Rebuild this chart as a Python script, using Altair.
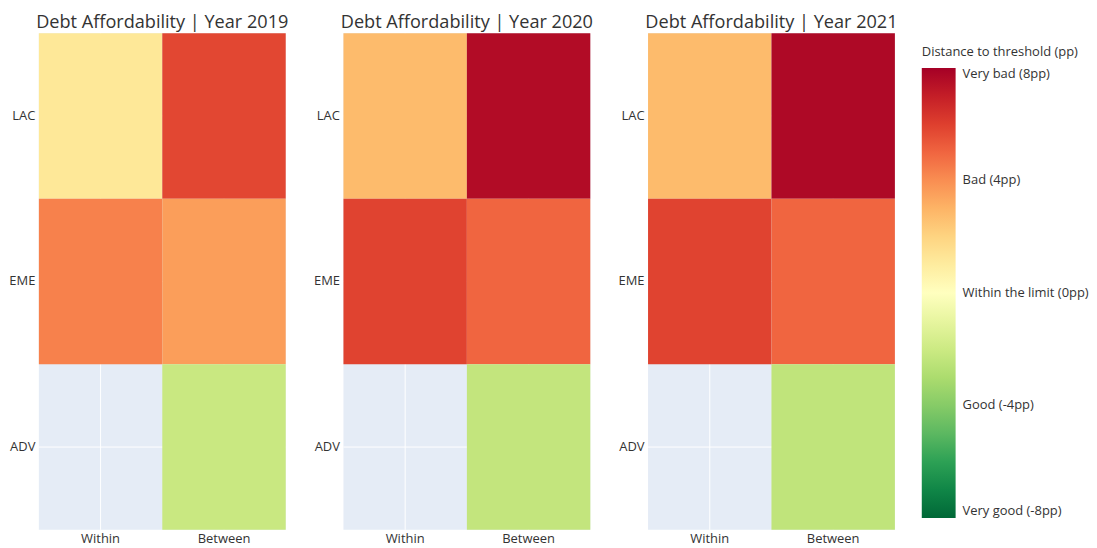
import altair as alt
import pandas as pd

years = [2019, 2020, 2021]
columns = ["Within", "Between"]
rows = ["LAC", "EME", "ADV"]

# values per year: [LAC Within, LAC Between, EME Within, EME Between, ADV Within, ADV Between]
vals_2019 = [1.2, 5.8, 4.3, 3.6, None, -2.1]
vals_2020 = [2.8, 7.6, 5.9, 5.0, None, -2.3]
vals_2021 = [2.8, 7.7, 5.9, 5.0, None, -2.4]
all_vals = {2019: vals_2019, 2020: vals_2020, 2021: vals_2021}

recs = []
for y in years:
    i = 0
    for r in rows:
        for c in columns:
            v = all_vals[y][i]
            i += 1
            if v is not None:
                recs.append({"year": y, "row": r, "col": c, "value": v})
df = pd.DataFrame(recs)
grid_x = pd.DataFrame({"col": columns})
grid_y = pd.DataFrame({"row": rows})

scale_domain = [-8, -6.4, -4.8, -3.2, -1.6, 0, 1.6, 3.2, 4.8, 6.4, 8]
scale_range = ["rgb(0,104,55)", "rgb(26,152,80)", "rgb(102,189,99)", "rgb(166,217,106)",
               "rgb(217,239,139)", "rgb(255,255,191)", "rgb(254,224,139)", "rgb(253,174,97)",
               "rgb(244,109,67)", "rgb(215,48,39)", "rgb(165,0,38)"]
legend_vals = [8, 4, 0, -4, -8]
legend_labels = ["Very bad (8pp)", "Bad (4pp)", "Within the limit (0pp)", "Good (-4pp)", "Very good (-8pp)"]

label_expr = ("datum.value == 8 ? '" + legend_labels[0] + "' : datum.value == 4 ? '" + legend_labels[1] +
              "' : datum.value == 0 ? '" + legend_labels[2] + "' : datum.value == -4 ? '" + legend_labels[3] +
              "' : '" + legend_labels[4] + "'")

FONT = "Open Sans"
TXT = "#333333"

xscale = alt.Scale(domain=columns, paddingInner=0, paddingOuter=0)
yscale = alt.Scale(domain=rows, paddingInner=0, paddingOuter=0)


def panel(y):
    vlines = alt.Chart(grid_x).mark_rule(color="white", strokeWidth=1).encode(
        x=alt.X("col:N", sort=columns, bandPosition=0.5, title=None, scale=xscale,
                axis=alt.Axis(labelAngle=0, domain=False, ticks=False, grid=False, labelPadding=3)),
    )
    hlines = alt.Chart(grid_y).mark_rule(color="white", strokeWidth=1).encode(
        y=alt.Y("row:N", sort=rows, bandPosition=0.5, title=None, scale=yscale,
                axis=alt.Axis(domain=False, ticks=False, grid=False, labelPadding=4)),
    )
    heat = alt.Chart(df[df.year == y]).mark_rect().encode(
        x=alt.X("col:N", sort=columns, title=None, scale=xscale,
                axis=alt.Axis(labelAngle=0, domain=False, ticks=False, grid=False, labelPadding=3)),
        y=alt.Y("row:N", sort=rows, title=None, scale=yscale,
                axis=alt.Axis(domain=False, ticks=False, grid=False, labelPadding=4)),
        color=alt.Color("value:Q",
                        scale=alt.Scale(domain=scale_domain, range=scale_range, interpolate="rgb"),
                        legend=alt.Legend(title="Distance to threshold (pp)", values=legend_vals,
                                          labelExpr=label_expr, gradientLength=452,
                                          gradientThickness=34, direction="vertical",
                                          orient="none", legendX=887, legendY=13,
                                          titleFontWeight="normal", titleFontSize=13,
                                          labelFontSize=13, titleColor=TXT, labelColor=TXT,
                                          labelFont=FONT, titleFont=FONT, padding=0,
                                          labelOffset=7,
                                          gradientStrokeWidth=0, titlePadding=9)),
    )
    return alt.layer(vlines, hlines, heat).properties(
        width=248, height=499,
        title=alt.Title(f"Debt Affordability | Year {y}", fontSize=18.2, font=FONT,
                        fontWeight="normal", color=TXT, offset=0),
    )


chart = alt.hconcat(*[panel(y) for y in years], spacing=58, bounds="flush").properties(
    padding={"left": 0, "top": 4, "right": 0, "bottom": 0}
).configure_view(
    fill="#E5ECF6", stroke=None
).configure_axis(
    labelFont=FONT, labelFontSize=13, labelColor=TXT
)

chart.save("out.html", embed_options={"renderer": "svg", "actions": False})
